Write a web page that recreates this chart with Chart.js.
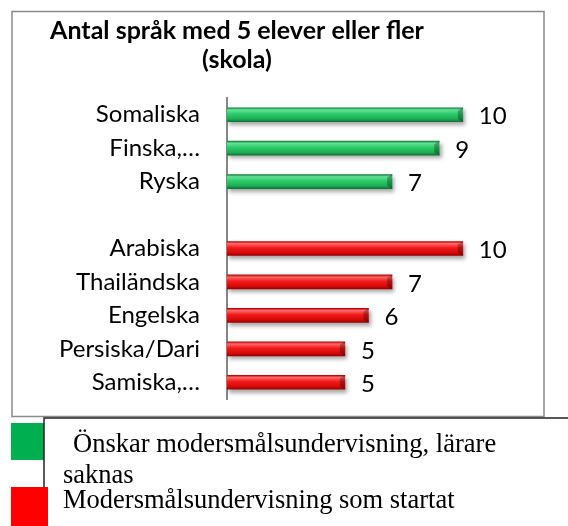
<!DOCTYPE html>
<html>
<head>
<meta charset="utf-8">
<script src="https://cdn.jsdelivr.net/npm/chart.js@4"></script>
<style>
  body { margin: 0; background: #fff; }
  canvas { display: block; }
</style>
</head>
<body>
<canvas id="languages-graphic" width="568" height="526"></canvas>
<script>
var categories = ['Somaliska', 'Finska,…', 'Ryska', '', 'Arabiska', 'Thailändska', 'Engelska', 'Persiska/Dari', 'Samiska,…'];
var waitingValues = [10, 9, 7, null, null, null, null, null, null];
var startedValues = [null, null, null, null, 10, 7, 6, 5, 5];
var seriesNames = ['Önskar modersmålsundervisning, lärare saknas', 'Modersmålsundervisning som startat'];
var titleLines = ['Antal språk med 5 elever eller fler', '(skola)'];

// gradient stops for the bevelled bars: [edge, light, main, lower, edge]
var greenStops = ['#14803c', '#62e398', '#2ccb69', '#1cae55', '#0f7434'];
var redStops = ['#b80000', '#ff6a6a', '#f21a1a', '#d60a0a', '#9a0000'];

function barGradient(stops) {
    return function (context) {
        var chart = context.chart;
        if (!chart.chartArea) return stops[2];
        var y = chart.scales.y.getPixelForValue(context.dataIndex);
        var g = chart.ctx.createLinearGradient(0, y - 7, 0, y + 7);
        g.addColorStop(0, stops[0]);
        g.addColorStop(0.15, stops[1]);
        g.addColorStop(0.45, stops[2]);
        g.addColorStop(0.8, stops[3]);
        g.addColorStop(1, stops[4]);
        return g;
    };
}

var framePlugin = {
    id: 'frame',
    beforeDraw: function (chart) {
        var ctx = chart.ctx;
        ctx.save();
        ctx.strokeStyle = '#8a8a8a';
        ctx.lineWidth = 1.5;
        ctx.strokeRect(12, 11.5, 532, 405);
        // title
        ctx.fillStyle = '#000';
        ctx.font = 'bold 25px Lato';
        ctx.textAlign = 'center';
        ctx.textBaseline = 'alphabetic';
        ctx.fillText(titleLines[0], 237, 39);
        ctx.fillText(titleLines[1], 237, 68);
        ctx.restore();
    },
    beforeDatasetsDraw: function (chart) {
        var ctx = chart.ctx;
        ctx.save();
        ctx.shadowColor = 'rgba(0,0,0,0.35)';
        ctx.shadowBlur = 4;
        ctx.shadowOffsetX = 2;
        ctx.shadowOffsetY = 3;
    },
    afterDatasetsDraw: function (chart) {
        var ctx = chart.ctx;
        ctx.restore();
        ctx.save();
        chart.data.datasets.forEach(function (ds, i) {
            var meta = chart.getDatasetMeta(i);
            meta.data.forEach(function (bar, j) {
                if (ds.data[j] === null) return;
                var top = bar.y - 7, bottom = bar.y + 7;
                // bevelled right end
                ctx.fillStyle = 'rgba(0,0,0,0.28)';
                ctx.beginPath();
                ctx.moveTo(bar.x, top);
                ctx.lineTo(bar.x, bottom);
                ctx.lineTo(bar.x - 5, bottom - 3);
                ctx.lineTo(bar.x - 5, top + 3);
                ctx.closePath();
                ctx.fill();
                // value label
                ctx.fillStyle = '#000';
                ctx.font = '24px Lato';
                ctx.textAlign = 'left';
                ctx.textBaseline = 'middle';
                ctx.fillText(ds.data[j], bar.x + 16, bar.y + 2);
            });
        });
        ctx.restore();
    },
    afterDraw: function (chart) {
        var ctx = chart.ctx;
        ctx.save();
        ctx.fillStyle = '#00b050';
        ctx.fillRect(11, 423, 33, 37);
        ctx.strokeStyle = '#222';
        ctx.lineWidth = 1.5;
        ctx.beginPath();
        ctx.moveTo(44, 526);
        ctx.lineTo(44, 418);
        ctx.lineTo(568, 418);
        ctx.stroke();
        ctx.fillStyle = '#ff0000';
        ctx.fillRect(11, 487, 37, 39);

        ctx.fillStyle = '#000';
        ctx.font = '26.5px "Liberation Serif"';
        ctx.textAlign = 'left';
        ctx.textBaseline = 'alphabetic';
        var starts = [452, 507.5];
        seriesNames.forEach(function (name, i) {
            var words = name.split(' ');
            var lines = [];
            var line = '';
            words.forEach(function (w) {
                var test = line ? line + ' ' + w : w;
                if (line && ctx.measureText(test).width > 440) {
                    lines.push(line);
                    line = w;
                } else {
                    line = test;
                }
            });
            lines.push(line);
            lines.forEach(function (l, k) {
                ctx.fillText(l, (i === 0 && k === 0) ? 73 : 63, starts[i] + k * 31);
            });
        });
        ctx.restore();
    }
};

var ctx = document.getElementById('languages-graphic').getContext('2d');

var myBarChart = new Chart(ctx, {
    type: 'bar',
    data: {
        labels: categories,
        datasets: [{
            label: seriesNames[0],
            data: waitingValues,
            backgroundColor: barGradient(greenStops),
            barThickness: 14
        }, {
            label: seriesNames[1],
            data: startedValues,
            backgroundColor: barGradient(redStops),
            barThickness: 14
        }]
    },
    options: {
        indexAxis: 'y',
        responsive: false,
        animation: false,
        layout: {
            padding: { top: 98, bottom: 127, left: 0, right: 58 }
        },
        plugins: {
            legend: { display: false },
            title: { display: false },
            tooltip: { enabled: false }
        },
        scales: {
            x: {
                display: false,
                stacked: true,
                min: 0,
                max: 12
            },
            y: {
                stacked: true,
                grid: { display: false, drawTicks: false },
                border: { display: true, color: '#868686', width: 2 },
                ticks: {
                    color: '#000',
                    padding: 27,
                    font: { family: 'Lato', size: 24 }
                },
                afterFit: function (scale) {
                    scale.width = 227;
                }
            }
        }
    },
    plugins: [framePlugin]
});
</script>
</body>
</html>
